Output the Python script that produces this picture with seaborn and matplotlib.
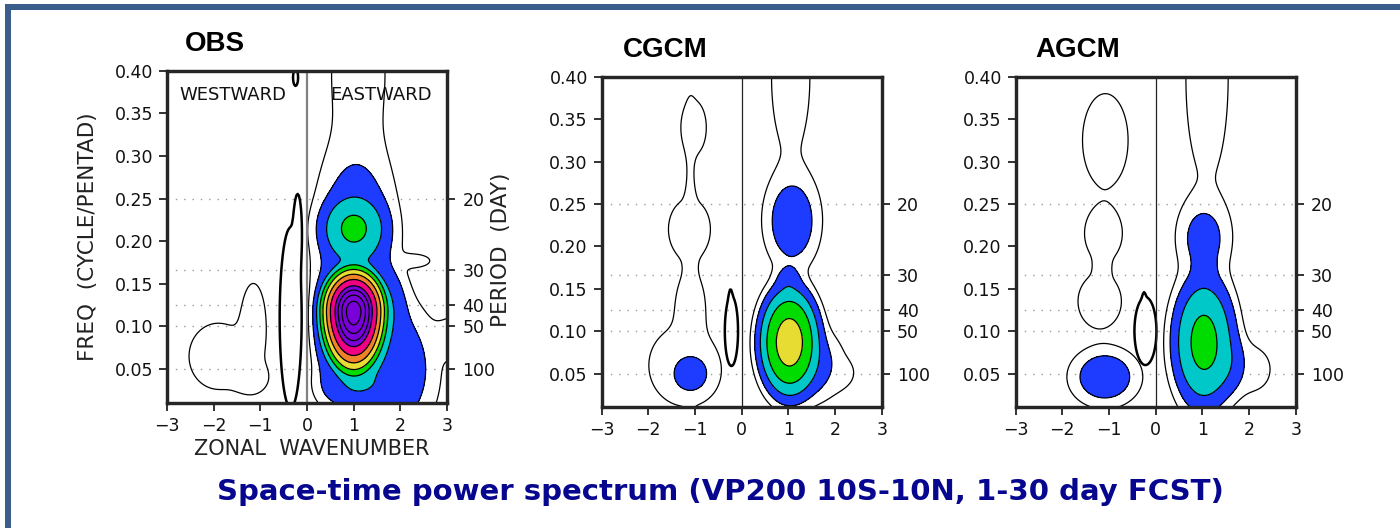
import numpy as np
import matplotlib
matplotlib.use("Agg")
import matplotlib.pyplot as plt
from matplotlib.patches import Rectangle
import seaborn as sns

# ---------------- data ----------------
panel_titles = ["OBS", "CGCM", "AGCM"]
suptitle = "Space-time power spectrum (VP200 10S-10N, 1-30 day FCST)"
wavenumber_ticks = [-3, -2, -1, 0, 1, 2, 3]
freq_ticks = [0.05, 0.10, 0.15, 0.20, 0.25, 0.30, 0.35, 0.40]
period_days = [20, 30, 40, 50, 100]          # right axis (days); freq = 5 / period
thin_levels = [1.0]
fill_levels = [1.4, 2.0, 2.8, 3.9, 5.5, 7.7, 10.8]
inner_levels = [13.0, 15.5, 18.0]
fill_hex = ["#1E3CFF", "#00C8C8", "#00DC00", "#E6DC32", "#F08228", "#F00082", "#7A00DA"]

# spectral peaks of each panel: centre (k, f), widths (k, f below, f above), amplitude
obs_k0 = [1.00, 1.00, 1.05, 1.80, 1.00, 0.45, 1.70, 1.10, 2.30, 3.30, -1.15, -1.90, -1.20]
obs_f0 = [0.118, 0.215, 0.200, 0.050, 0.030, 0.100, 0.120, 0.400, 0.177, 0.087, 0.100, 0.065, 0.040]
obs_sk = [0.364, 0.60, 0.85, 0.95, 0.75, 0.35, 0.45, 0.85, 0.45, 0.65, 0.35, 0.81, 0.46]
obs_sf_lo = [0.038, 0.034, 0.115, 0.080, 0.030, 0.070, 0.050, 0.130, 0.010, 0.032, 0.065, 0.050, 0.023]
obs_sf_hi = [0.027, 0.034, 0.115, 0.080, 0.030, 0.070, 0.050, 0.130, 0.010, 0.032, 0.065, 0.050, 0.023]
obs_amp = [19.7, 2.95, 1.9, 1.9, 1.9, 1.9, 1.9, 1.25, 1.30, 1.35, 1.35, 1.35, 1.35]
obs_bold_k0 = [-0.35, -0.20, -0.245]
obs_bold_f0 = [0.11, 0.21, 0.392]
obs_bold_sk = [0.20, 0.10, 0.06]
obs_bold_sf = [0.09, 0.05, 0.011]
obs_bold_amp = [2.0, 1.5, 1.5]

cgcm_k0 = [1.02, 1.08, 1.45, 1.00, 1.05, 2.00, -1.03, -1.12, -1.10, -1.25, -1.10, -1.10]
cgcm_f0 = [0.087, 0.230, 0.060, 0.160, 0.400, 0.050, 0.340, 0.220, 0.200, 0.060, 0.130, 0.050]
cgcm_sk = [0.48, 0.60, 0.75, 0.30, 0.68, 0.45, 0.35, 0.58, 0.15, 0.95, 0.40, 0.49]
cgcm_sf_lo = [0.048, 0.058, 0.045, 0.020, 0.150, 0.020, 0.041, 0.046, 0.200, 0.058, 0.050, 0.028]
cgcm_sf_hi = [0.048, 0.058, 0.045, 0.020, 0.150, 0.020, 0.041, 0.046, 0.200, 0.058, 0.050, 0.028]
cgcm_amp = [4.61, 1.8, 1.7, 1.6, 1.2, 1.35, 1.35, 1.35, 1.2, 1.35, 1.35, 1.8]
cgcm_bold_k0 = [-0.22, -0.24]
cgcm_bold_f0 = [0.100, 0.120]
cgcm_bold_sk = [0.12, 0.05]
cgcm_bold_sf = [0.035, 0.030]
cgcm_bold_amp = [2.0, 1.5]

agcm_k0 = [1.03, 1.55, 1.03, 1.05, 1.10, 2.10, -1.09, -1.08, -1.12, -1.20, -1.15]
agcm_f0 = [0.087, 0.060, 0.210, 0.175, 0.400, 0.055, 0.046, 0.325, 0.215, 0.135, 0.175]
agcm_sk = [0.568, 0.50, 0.60, 0.25, 0.75, 0.45, 0.75, 0.63, 0.52, 0.60, 0.20]
agcm_sf_lo = [0.066, 0.040, 0.050, 0.020, 0.200, 0.030, 0.035, 0.071, 0.041, 0.041, 0.025]
agcm_sf_hi = [0.066, 0.040, 0.050, 0.020, 0.200, 0.030, 0.035, 0.071, 0.041, 0.041, 0.025]
agcm_amp = [3.14, 1.7, 1.65, 1.5, 1.2, 1.35, 1.8, 1.35, 1.35, 1.35, 1.25]
agcm_bold_k0 = [-0.22, -0.25]
agcm_bold_f0 = [0.100, 0.115]
agcm_bold_sk = [0.20, 0.05]
agcm_bold_sf = [0.034, 0.030]
agcm_bold_amp = [2.0, 1.5]


# ---------------- helpers ----------------
def spectrum(kk, ff, k0, f0, sk, sf_lo, sf_hi, amp, min_amp=0.0, p=4.0):
    tot = np.zeros_like(kk)
    for a, b, c, d, e, g in zip(k0, f0, sk, sf_lo, sf_hi, amp):
        if g < min_amp:
            continue
        sf = np.where(ff < b, d, e)
        tot += (g * np.exp(-0.5 * (((kk - a) / c) ** 2 + ((ff - b) / sf) ** 2))) ** p
    return tot ** (1.0 / p)


sns.set_theme(style="ticks")
plt.rcParams["font.family"] = ["DejaVu Sans"]
plt.rcParams["axes.linewidth"] = 2.3

W, H = 1400, 528
fig = plt.figure(figsize=(W / 100, H / 100), dpi=100)
fig.patch.set_facecolor("white")

# frame lines of the slide
fig.add_artist(Rectangle((5 / W, 1 - 10 / H), 1 - 5 / W, 6 / H, transform=fig.transFigure,
                         color="#3A5D8C", lw=0))
fig.add_artist(Rectangle((5 / W, 0), 6 / W, 1 - 4 / H, transform=fig.transFigure,
                         color="#3A5D8C", lw=0))

fill_colors = sns.color_palette(fill_hex)
kk, ff = np.meshgrid(np.linspace(-3, 3, 241), np.linspace(0.0, 0.40, 321))

panels = [
    dict(rect=(167, 70.7, 447, 402.7), title_xy=(185, 50.7),
         comps=(obs_k0, obs_f0, obs_sk, obs_sf_lo, obs_sf_hi, obs_amp),
         bold=(obs_bold_k0, obs_bold_f0, obs_bold_sk, obs_bold_sf, obs_bold_sf, obs_bold_amp),
         zero_color="#808080", zero_lw=1.6),
    dict(rect=(601.7, 76.7, 881.7, 407), title_xy=(622.7, 57.3),
         comps=(cgcm_k0, cgcm_f0, cgcm_sk, cgcm_sf_lo, cgcm_sf_hi, cgcm_amp),
         bold=(cgcm_bold_k0, cgcm_bold_f0, cgcm_bold_sk, cgcm_bold_sf, cgcm_bold_sf, cgcm_bold_amp),
         zero_color="#222222", zero_lw=0.9),
    dict(rect=(1015.7, 76.7, 1295.7, 407), title_xy=(1035, 56.7),
         comps=(agcm_k0, agcm_f0, agcm_sk, agcm_sf_lo, agcm_sf_hi, agcm_amp),
         bold=(agcm_bold_k0, agcm_bold_f0, agcm_bold_sk, agcm_bold_sf, agcm_bold_sf, agcm_bold_amp),
         zero_color="#222222", zero_lw=0.9),
]

period_freqs = [5.0 / p for p in period_days]
ylo, yhi = 0.0105, 0.40

for i, pn in enumerate(panels):
    x0, y0, x1, y1 = pn["rect"]
    ax = fig.add_axes([x0 / W, 1 - y1 / H, (x1 - x0) / W, (y1 - y0) / H])
    ax.set_facecolor("white")

    z_all = spectrum(kk, ff, *pn["comps"])
    z_fill = spectrum(kk, ff, *pn["comps"], min_amp=fill_levels[0])
    z_bold = spectrum(kk, ff, *pn["bold"])

    for fq in period_freqs:
        ax.axhline(fq, color="#9a9a9a", lw=1.0, ls=(0, (1, 5)), zorder=1)

    ax.contourf(kk, ff, z_fill, levels=fill_levels + [1e6], colors=fill_colors, zorder=2)
    ax.contour(kk, ff, z_fill, levels=fill_levels + inner_levels,
               colors="black", linewidths=0.9, zorder=3)
    ax.contour(kk, ff, z_all, levels=thin_levels, colors="black", linewidths=0.9, zorder=3)
    ax.contour(kk, ff, z_bold, levels=[1.0], colors="black", linewidths=1.8, zorder=3)
    ax.axvline(0, color=pn["zero_color"], lw=pn["zero_lw"], zorder=4)

    ax.set_xlim(-3, 3)
    ax.set_ylim(ylo, yhi)
    ax.set_xticks(wavenumber_ticks)
    ax.set_xticklabels([f"{v:d}".replace("-", "\u2212") for v in wavenumber_ticks])
    ax.set_yticks(freq_ticks)
    ax.set_yticklabels([f"{v:.2f}" for v in freq_ticks])
    ax.tick_params(direction="out", length=6, width=1.2, labelsize=12.5, pad=4,
                   colors="#111111")
    for s in ax.spines.values():
        s.set_linewidth(2.3)
        s.set_color("black")

    axr = ax.twinx()
    axr.set_ylim(ylo, yhi)
    axr.set_yticks(period_freqs)
    axr.set_yticklabels([str(p) for p in period_days])
    axr.tick_params(direction="out", length=6, width=1.2, labelsize=12.5, pad=5,
                    colors="#111111")
    for s in axr.spines.values():
        s.set_linewidth(2.3)

    tx, ty = pn["title_xy"]
    fig.text(tx / W, 1 - ty / H, panel_titles[i], ha="left", va="baseline",
             fontsize=20, fontweight="bold", family="Liberation Sans", color="black")

    if i == 0:
        ax.text(-2.74, 0.3656, "WESTWARD", ha="left", va="baseline", fontsize=13, color="#111111")
        ax.text(0.49, 0.3656, "EASTWARD", ha="left", va="baseline", fontsize=13, color="#111111")

fig.text(88.5 / W, 1 - 236.5 / H, "FREQ  (CYCLE/PENTAD)", rotation=90, ha="center",
         va="center", fontsize=15.5, color="#222222")
fig.text(311.5 / W, 1 - 455 / H, "ZONAL  WAVENUMBER", ha="center", va="baseline",
         fontsize=15, color="#222222")
fig.text(501.5 / W, 1 - 250 / H, "PERIOD  (DAY)", rotation=90, ha="center",
         va="center", fontsize=15.5, color="#222222")

fig.text(720 / W, 1 - 500 / H, suptitle, ha="center", va="baseline", fontsize=21,
         fontweight="bold", family="DejaVu Sans", color="#06068F")

fig.savefig("out.png", dpi=100)
